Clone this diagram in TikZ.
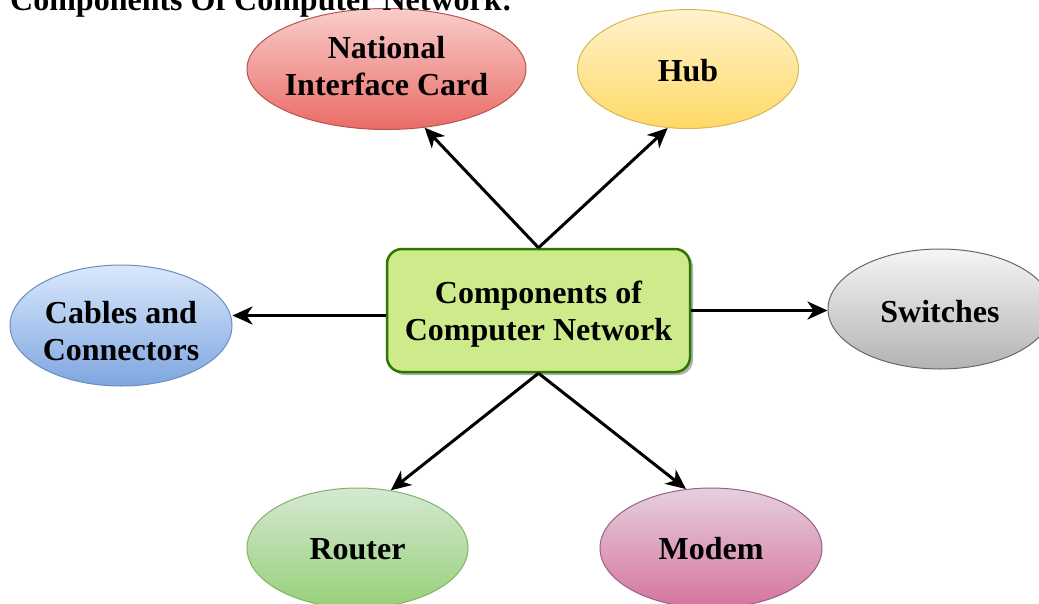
\documentclass[tikz,border=0pt]{standalone}
\usepackage{fontspec}
\setmainfont{Liberation Serif}
\usetikzlibrary{arrows.meta,shadows,calc,shapes.geometric}
\definecolor{nicT}{HTML}{F8CECC}\definecolor{nicB}{HTML}{EA6B66}\definecolor{nicD}{HTML}{B85450}
\definecolor{hubT}{HTML}{FFF2CC}\definecolor{hubB}{HTML}{FFD966}\definecolor{hubD}{HTML}{D6B656}
\definecolor{cabT}{HTML}{DAE8FC}\definecolor{cabB}{HTML}{7EA6E0}\definecolor{cabD}{HTML}{6C8EBF}
\definecolor{swT}{HTML}{F5F5F5}\definecolor{swB}{HTML}{B3B3B3}\definecolor{swD}{HTML}{666666}
\definecolor{roT}{HTML}{D5E8D4}\definecolor{roB}{HTML}{97D077}\definecolor{roD}{HTML}{82B366}
\definecolor{moT}{HTML}{E6D0DE}\definecolor{moB}{HTML}{D5739D}\definecolor{moD}{HTML}{996185}
\definecolor{cenF}{HTML}{CDEB8B}\definecolor{cenD}{HTML}{2D7600}
\tikzset{
  txt/.style={font=\bfseries\fontsize{32}{37}\selectfont, align=center, text=black, inner sep=0pt},
  blob/.style n args={3}{ellipse, inner sep=0pt, top color=#1, bottom color=#2, draw=#3, line width=1pt},
  centre/.style={rectangle, rounded corners=15pt, fill=cenF, draw=cenD, line width=2.5pt,
    minimum width=303pt, minimum height=123pt, inner sep=0pt,
    drop shadow={shadow xshift=3pt, shadow yshift=-3pt, opacity=0.3, fill=black}},
  arr/.style={line width=3pt, -{Stealth[length=20pt, width=18pt, inset=6pt]}}
}
\begin{document}
\begin{tikzpicture}[x=1pt, y=-1pt]
\clip (0,0) rectangle (1039,603);
\fill[white] (0,0) rectangle (1039,603);
\node[centre, label={[txt,yshift=-4pt]center:Components of\\Computer Network}] (c) at (538.5,310.5) {};
\node[blob={nicT}{nicB}{nicD}, minimum width=279pt, minimum height=121pt,
  label={[txt,yshift=3pt]center:National\\Interface Card}] (nic) at (386.5,69) {};
\node[blob={hubT}{hubB}{hubD}, minimum width=221pt, minimum height=119pt,
  label={[txt,yshift=-2pt]center:Hub}] (hub) at (688,69) {};
\node[blob={cabT}{cabB}{cabD}, minimum width=222pt, minimum height=121pt,
  label={[txt,yshift=-6pt]center:Cables and\\Connectors}] (cab) at (121,325.5) {};
\node[blob={swT}{swB}{swD}, minimum width=224pt, minimum height=120pt,
  label={[txt,yshift=-3pt]center:Switches}] (sw) at (940,309) {};
\node[blob={roT}{roB}{roD}, minimum width=221pt, minimum height=120pt,
  label={[txt,yshift=-1pt]center:Router}] (ro) at (357.5,548) {};
\node[blob={moT}{moB}{moD}, minimum width=222pt, minimum height=120pt,
  label={[txt,yshift=-1pt]center:Modem}] (mo) at (711,548) {};
\node[txt, anchor=base west] (title) at (10,10) {Components Of Computer Network:};
\coordinate (lw) at ([yshift=-5pt]c.west);
\draw[arr] (c.north) -- (nic.303);
\draw[arr] (c.north) -- (hub.251);
\draw[arr] (c.south) -- (ro.60);
\draw[arr] (c.south) -- (mo.113);
\draw[arr] (lw) -- (lw -| cab.east);
\draw[arr] (c.east) -- (c.east -| sw.west);
\end{tikzpicture}
\end{document}
